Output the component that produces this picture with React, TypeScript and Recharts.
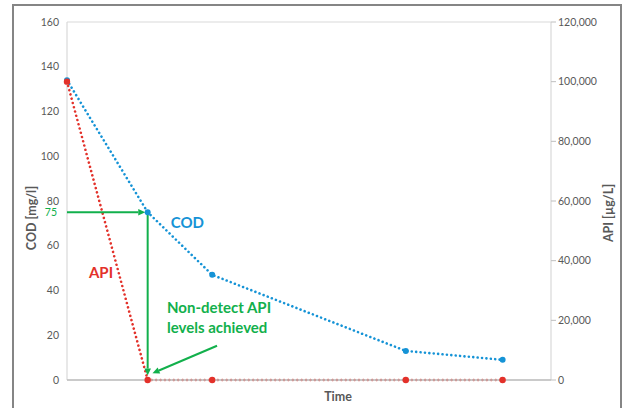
import React from 'react';
import { LineChart, Line, XAxis, YAxis, CartesianGrid, ReferenceLine, ReferenceDot, Label } from 'recharts';

// sampling times (h) and measured values
const times = [0, 5, 9, 21, 27];
const codValues = [134, 75, 47, 13, 9];
const apiValues = [100000, 0, 0, 0, 0];

const codTicks = [0, 20, 40, 60, 80, 100, 120, 140, 160];
const apiTicks = [0, 20000, 40000, 60000, 80000, 100000, 120000];
const timeTicks = [0, 3, 6, 9, 12, 15, 18, 21, 24, 27, 30];

const data = times.map((t, i) => ({ time: t, cod: codValues[i], api: apiValues[i] }));

const BLUE = '#1593d6';
const RED = '#e3312a';
const GREEN = '#12b04c';
const GREY = '#595959';
const FONT = 'Lato, "Open Sans", sans-serif';

// COD level reached when API went non-detect
const codAtNonDetect = 75;
const nonDetectTime = 5;

const Arrow = (props: any) => {
  const { x1, y1, x2, y2 } = props;
  const ang = Math.atan2(y2 - y1, x2 - x1);
  const len = 7;
  const half = 3.3;
  const bx = x2 - len * Math.cos(ang);
  const by = y2 - len * Math.sin(ang);
  const px = -Math.sin(ang) * half;
  const py = Math.cos(ang) * half;
  return (
    <g>
      <line x1={x1} y1={y1} x2={bx} y2={by} stroke={GREEN} strokeWidth={2} />
      <polygon points={`${x2},${y2} ${bx + px},${by + py} ${bx - px},${by - py}`} fill={GREEN} />
    </g>
  );
};

const textMark = (lines: string[], color: string, opts: any = {}) => (props: any) => (
  <text
    x={props.cx + (opts.dx || 0)}
    y={props.cy}
    fill={color}
    fontFamily={FONT}
    fontWeight={opts.weight || 700}
    fontSize={opts.size || 15}
    textAnchor={opts.anchor || 'start'}
    dominantBaseline={opts.baseline || 'auto'}
  >
    {lines.map((l, i) => (
      <tspan key={i} x={props.cx + (opts.dx || 0)} dy={i === 0 ? 0 : 20}>
        {l}
      </tspan>
    ))}
  </text>
);

const axisTitle = (text: string, kind: 'left' | 'right' | 'bottom') => (props: any) => {
  const vb = props.viewBox;
  let x = 0;
  let y = 0;
  let rot = 0;
  if (kind === 'left') {
    x = vb.x + 18;
    y = vb.y + vb.height / 2 + 17;
    rot = -90;
  } else if (kind === 'right') {
    x = vb.x + 57;
    y = vb.y + vb.height / 2 + 12;
    rot = -90;
  } else {
    x = vb.x + vb.width * 0.56;
    y = vb.y + 16;
  }
  return (
    <text
      x={x}
      y={y}
      transform={rot ? `rotate(${rot}, ${x}, ${y})` : undefined}
      textAnchor="middle"
      dominantBaseline="central"
      fill={GREY}
      fontFamily={FONT}
      fontWeight={700}
      fontSize={12.5}
    >
      {text}
    </text>
  );
};

const tickStyle = { fill: GREY, fontSize: 10.5, fontFamily: FONT };

export default function App() {
  return (
    <div style={{ position: 'absolute', left: 0, top: 0, width: 626, height: 408, overflow: 'hidden', background: '#fff' }}>
      <div
        style={{
          position: 'absolute',
          left: 12,
          top: 4,
          width: 606,
          height: 440,
          border: '2px solid #858585',
        }}
      />
      <LineChart width={626} height={408} data={data} margin={{ top: 22, right: 6, bottom: 0, left: 13 }}>
        <CartesianGrid stroke="#d9d9d9" strokeWidth={1.2} />
        <XAxis
          dataKey="time"
          type="number"
          domain={[0, 30]}
          ticks={timeTicks}
          tick={false}
          tickLine={false}
          axisLine={{ stroke: '#bfbfbf', strokeWidth: 1.5 }}
          height={28}
        >
          <Label content={axisTitle('Time', 'bottom')} />
        </XAxis>
        <YAxis
          yAxisId="cod"
          orientation="left"
          domain={[0, 160]}
          ticks={codTicks}
          width={54}
          axisLine={false}
          tickLine={false}
          tick={tickStyle}
        >
          <Label content={axisTitle('COD [mg/l]', 'left')} />
        </YAxis>
        <YAxis
          yAxisId="api"
          orientation="right"
          domain={[0, 120000]}
          ticks={apiTicks}
          width={69}
          axisLine={false}
          tickLine={{ stroke: '#bfbfbf' }}
          tickSize={5}
          tick={tickStyle}
          tickFormatter={(v: number) => v.toLocaleString('en-US')}
        >
          <Label content={axisTitle('API [µg/L]', 'right')} />
        </YAxis>

        <Line
          yAxisId="cod"
          dataKey="cod"
          type="linear"
          stroke={BLUE}
          strokeWidth={2.6}
          strokeDasharray="0.01 4.4"
          strokeLinecap="round"
          dot={{ r: 3, fill: BLUE, stroke: BLUE, strokeWidth: 0, strokeDasharray: 'none' }}
          isAnimationActive={false}
        />
        <Line
          yAxisId="api"
          dataKey="api"
          type="linear"
          stroke={RED}
          strokeWidth={2.6}
          strokeDasharray="0.01 4.4"
          strokeLinecap="round"
          dot={{ r: 3.2, fill: RED, stroke: RED, strokeWidth: 0, strokeDasharray: 'none' }}
          isAnimationActive={false}
        />

        <ReferenceLine
          yAxisId="cod"
          segment={[{ x: 0, y: codAtNonDetect }, { x: 4.85, y: codAtNonDetect }]}
          shape={Arrow}
        />
        <ReferenceLine
          yAxisId="cod"
          segment={[{ x: nonDetectTime, y: codAtNonDetect }, { x: nonDetectTime, y: 2 }]}
          shape={Arrow}
        />
        <ReferenceLine
          yAxisId="cod"
          segment={[{ x: 9.3, y: 15.3 }, { x: 5.3, y: 3.0 }]}
          shape={Arrow}
        />

        <ReferenceDot
          yAxisId="cod"
          x={0}
          y={codAtNonDetect}
          r={0}
          shape={textMark(['75'], GREEN, { dx: -10, anchor: 'end', baseline: 'central', size: 10.5, weight: 400 })}
        />
        <ReferenceDot yAxisId="cod" x={6.43} y={67.9} r={0} shape={textMark(['COD'], BLUE)} />
        <ReferenceDot yAxisId="cod" x={1.36} y={45.7} r={0} shape={textMark(['API'], RED)} />
        <ReferenceDot
          yAxisId="cod"
          x={6.2}
          y={29.9}
          r={0}
          shape={textMark(['Non-detect API', 'levels achieved'], GREEN)}
        />
      </LineChart>
    </div>
  );
}
